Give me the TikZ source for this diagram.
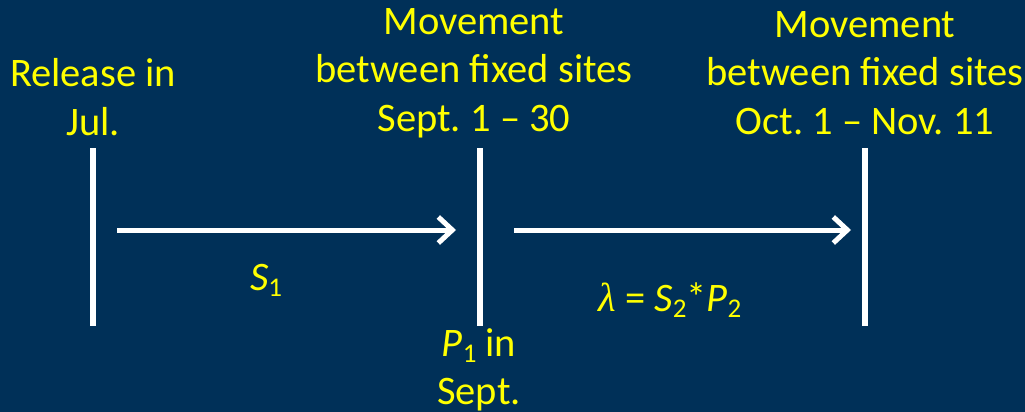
\documentclass[tikz,border=0pt]{standalone}
\usepackage{fontspec}
\setmainfont{Carlito}
\newfontfamily\lamfont{Liberation Serif}
\usetikzlibrary{arrows.meta}
\definecolor{bg}{RGB}{0,48,88}
\definecolor{ylw}{RGB}{255,255,0}
\frenchspacing
\tikzset{
  lbl/.style={text=ylw, font=\fontsize{40.5}{48.5}\selectfont, align=center, inner sep=0pt},
  bar/.style={draw=white, line width=6pt},
  arr/.style={draw=white, line width=5pt, -{Straight Barb[length=14pt,width=26pt,line width=5pt]}},
}
\newcommand{\sub}[1]{\raisebox{-0.3ex}{\fontsize{27}{27}\selectfont #1}}
\begin{document}
\begin{tikzpicture}[x=1pt,y=-1pt]
\fill[bg] (0,0) rectangle (1025,412);
\useasboundingbox (0,0) rectangle (1025,412);
% bars
\coordinate (a1) at (93,148); \coordinate (a2) at (93,326);
\coordinate (b1) at (480,148); \coordinate (b2) at (480,326);
\coordinate (c1) at (865,148); \coordinate (c2) at (865,326);
\draw[bar] (a1) -- (a2);
\draw[bar] (b1) -- (b2);
\draw[bar] (c1) -- (c2);
% arrows
\coordinate (s1) at (117,230); \coordinate (e1) at (456,230);
\coordinate (s2) at (514,230); \coordinate (e2) at (851,230);
\draw[arr] (s1) -- (e1);
\draw[arr] (s2) -- (e2);
% labels
\node[lbl] (rel) at (93,97) {Release in\\Jul.};
\node[lbl] (mv1) at (474,73) {Movement\\between fixed sites\\Sept. 1 – 30};
\node[lbl] (mv2) at (865,73) {Movement\\between fixed sites\\Oct. 1 – Nov. 11};
\node[lbl] (S1) at (266,280) {\textit{S}\sub{1}};
\node[lbl] (lam) at (670,300) {{\lamfont\itshape λ} = \textit{S}\sub{2}*\textit{P}\sub{2}};
\node[lbl] (P1) at (479,370) {\textit{P}\sub{1} in\\Sept.};
\end{tikzpicture}
\end{document}
